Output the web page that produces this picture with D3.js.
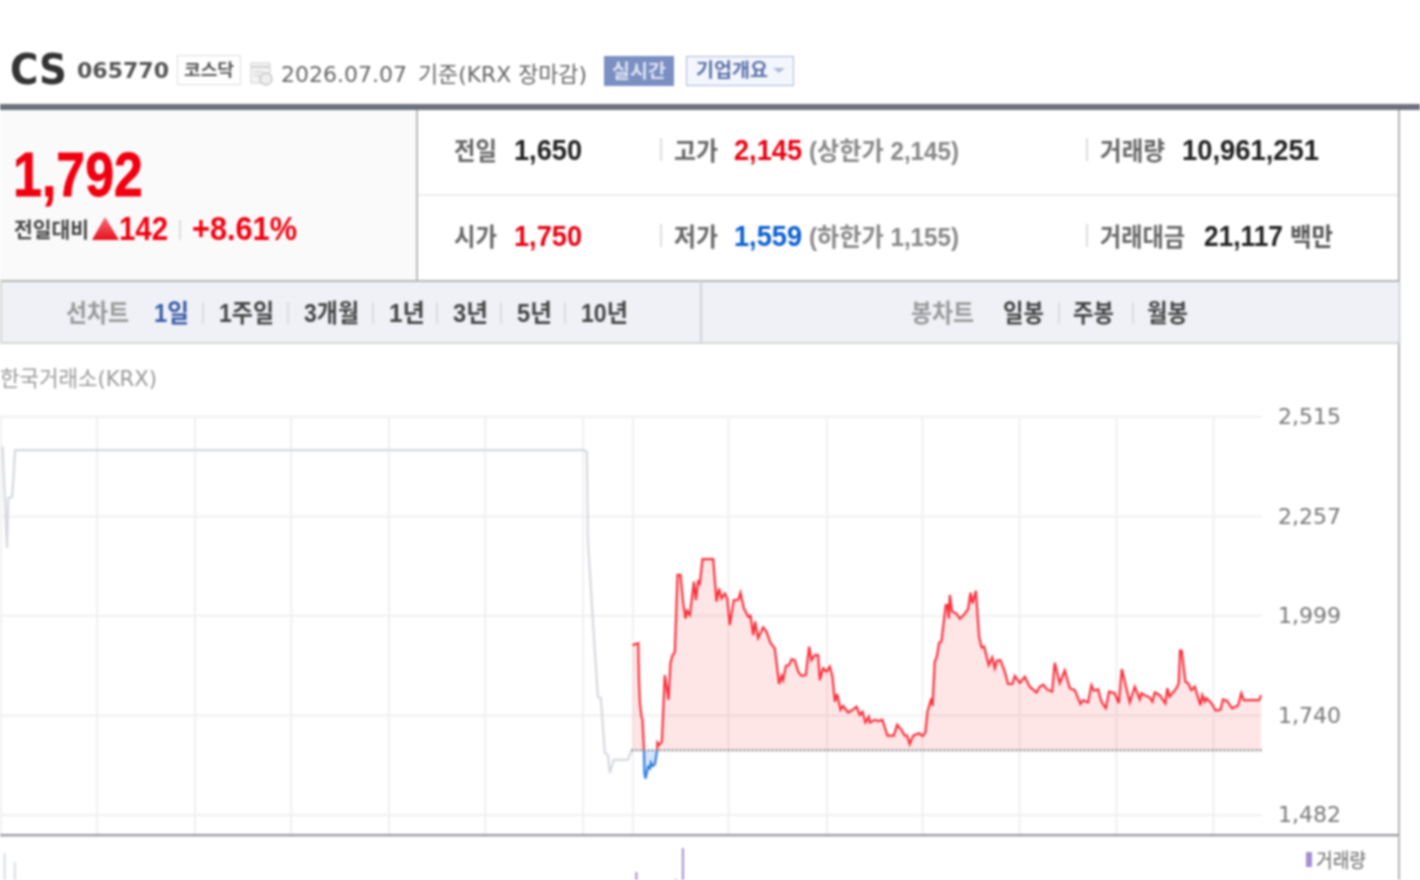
<!DOCTYPE html>
<html>
<head>
<meta charset="utf-8">
<script src="https://cdn.jsdelivr.net/npm/d3@7"></script>
<style>
html, body { margin: 0; padding: 0; background: #fff; overflow: hidden; }
svg { display: block; filter: blur(0.8px); }
text { font-family: "Liberation Sans", "Noto Sans CJK KR", sans-serif; }
.dv { font-family: "DejaVu Sans", "Noto Sans CJK KR", sans-serif; }
</style>
</head>
<body>
<svg id="chart" width="1420" height="880"></svg>
<script>
// values. minutes counted from the previous day's 09:00
const prevMinutes = [0, 1, 3.7, 4.5, 6.8, 7.6, 8.7, 361, 362.4, 363, 366, 369.2, 371, 373.5, 375.4, 376.6, 379, 387.8, 390];
const prevPrices = [2435, 2435, 2175, 2305, 2307, 2351, 2429, 2429, 2424, 2196, 1993, 1788, 1786, 1643, 1638, 1591, 1625, 1625, 1651];

const todayMinutes = [390.6, 394.2, 394.6, 395.2, 396.2, 396.8, 397.7, 398, 398.7, 400.3, 401.4, 402, 403, 404.5, 405.9, 406, 407.1, 408.8, 410.6, 411.7, 412.9, 414.1, 415.4, 416.8, 418.5, 420.3, 422, 423.4, 424.4, 426.1, 428.6, 429.8, 431.2, 432.3, 433.9, 440.5, 442.6, 444.2, 445.7, 447.7, 449.2, 450.8, 453.3, 456, 457.4, 459.5, 462.2, 463.6, 465.3, 466.5, 468.3, 471.4, 473.5, 476, 478.6, 481.3, 482.8, 483.8, 485.5, 487.5, 489, 491, 493.1, 495.1, 497.8, 499.9, 501.3, 503.4, 505.4, 506.5, 508.5, 510.6, 512.7,
  514.3, 515.8, 517.2, 519.3, 520.9, 524, 526.7, 529.2, 531.2, 532.9, 534.7, 536.8, 537.4, 540.5, 542.6, 545.2, 548.3, 552.3, 554.3, 557, 559, 560.5, 562.1, 564.2, 567.9, 570, 571.8, 573.1, 575.5, 576.2, 577.6, 579, 580.3, 581.7, 584.4, 585.4, 586.3, 586.9, 588.3, 591, 593.1, 595.1, 598.2, 599.7, 600.9, 603, 605, 606.5, 608.1, 611, 613.1, 614.7, 616.1, 618.2, 620.9, 622.9, 625.6, 627.1, 630.2, 633.3, 636.3, 640.5, 642.5, 644.6, 647.1, 650.2, 651.8, 654.9, 658, 661.1, 664.2, 667.7,
  669.3, 672.4, 674.5, 675.9, 678.6, 680.7, 683.4, 685.4, 688.9, 691.4, 693.3, 696.1, 698.2, 701.3, 704.4, 705.4, 707.5, 710.6, 712.2, 713.7, 716.7, 720.2, 721.5, 722.9, 727.1, 728.5, 729.3, 730.3, 732.6, 734.3, 736.3, 738.4, 741.9, 743.1, 744.6, 745.6, 748.7, 751.4, 754.3, 755.9, 758.4, 761.5, 765.2, 767.2, 768.7, 778.2, 779.4];
const todayPrices = [1923, 1928, 1832, 1772, 1737, 1729, 1651, 1590, 1577, 1607, 1603, 1618, 1609, 1614, 1651, 1670, 1664, 1672, 1845, 1815, 1781, 1876, 1897, 1904, 2105, 2105, 2031, 1992, 2012, 2001, 2088, 2040, 2088, 2083, 2146, 2146, 2036, 2070, 2044, 2057, 2044, 1975, 2040, 2040, 2059, 2018, 1997, 1999, 1949, 1984, 1941, 1969, 1958, 1928, 1915, 1822, 1843, 1832, 1869, 1871, 1886, 1884, 1854, 1843, 1845, 1919, 1884, 1897, 1897, 1832, 1863, 1854, 1867,
  1841, 1776, 1796, 1755, 1765, 1748, 1755, 1763, 1742, 1750, 1722, 1737, 1722, 1729, 1726, 1729, 1688, 1688, 1716, 1703, 1688, 1688, 1666, 1688, 1694, 1687, 1696, 1750, 1785, 1765, 1880, 1895, 1929, 1932, 2027, 2027, 1992, 2053, 2010, 2005, 1991, 1999, 2016, 2059, 2031, 2064, 1945, 1917, 1919, 1871, 1891, 1863, 1883, 1884, 1854, 1822, 1822, 1843, 1825, 1841, 1815, 1800, 1815, 1820, 1808, 1802, 1877, 1824, 1857, 1811, 1806, 1770,
  1780, 1774, 1819, 1805, 1808, 1776, 1759, 1802, 1798, 1772, 1861, 1811, 1774, 1815, 1782, 1798, 1793, 1787, 1776, 1800, 1793, 1772, 1811, 1789, 1811, 1824, 1909, 1909, 1828, 1824, 1806, 1815, 1767, 1793, 1776, 1785, 1772, 1753, 1755, 1782, 1778, 1759, 1766, 1798, 1780, 1780, 1793];

const prevClose = 1650;
const priceTicks = [1482, 1740, 1999, 2257, 2515];
const timeTicks = [59.5, 120, 179.5, 240, 299.5, 360, 391, 450, 511, 570, 630, 690, 750];

const prevVolMinutes = [2.2, 8.5];
const prevVolumes = [475, 431];
const todayVolMinutes = [393, 417.5, 421.8];
const todayVolumes = [382, 348, 500];

const summaryRows = [
  [{ label: "전일", w: 43, value: "1,650", vw: 68, color: "#222" }, { label: "고가", w: 44, value: "2,145", vw: 68, color: "#e60012", note: "(상한가 2,145)" }, { label: "거래량", w: 65, value: "10,961,251", vw: 137, color: "#222" }],
  [{ label: "시가", w: 43, value: "1,750", vw: 68, color: "#e60012" }, { label: "저가", w: 44, value: "1,559", vw: 68, color: "#0a5fd0", note: "(하한가 1,155)" }, { label: "거래대금", w: 85, value: "21,117", vw: 79, color: "#222", unit: "백만" }]
];
const lineTabs = ["1일", "1주일", "3개월", "1년", "3년", "5년", "10년"];
const lineTabX = [154, 219, 304, 389, 453, 517, 581];
const lineTabW = [35, 55, 55, 36, 35, 35, 47];
const candleTabs = ["일봉", "주봉", "월봉"];
const candleTabX = [1003, 1073, 1147];

const svg = d3.select("#chart");

const x = d3.scaleLinear().domain([0, 780]).range([1, 1262]);
const y = d3.scaleLinear().domain([1482, 2515]).range([815, 417]);
const yVol = d3.scaleLinear().domain([0, 500]).range([950, 848]);

function txt(s, px, py, size, color, opts = {}) {
  const t = svg.append("text").attr("x", px).attr("y", py)
    .attr("font-size", size).attr("fill", color).text(s);
  if (opts.weight) t.attr("font-weight", opts.weight);
  if (opts.cls) t.attr("class", opts.cls);
  if (opts.stretch) t.attr("textLength", opts.stretch).attr("lengthAdjust", "spacingAndGlyphs");
  return t;
}
function rect(px, py, w, h, fill, stroke) {
  return svg.append("rect").attr("x", px).attr("y", py).attr("width", w).attr("height", h)
    .attr("fill", fill).attr("stroke", stroke || "none");
}

const defs = svg.append("defs");
const tri = defs.append("linearGradient").attr("id", "tri").attr("x1", 0).attr("x2", 0).attr("y1", 0).attr("y2", 1);
tri.append("stop").attr("offset", 0).attr("stop-color", "#f4707a");
tri.append("stop").attr("offset", 1).attr("stop-color", "#e8101c");

// header
txt("CS", 10, 84, 42, "#333", { cls: "dv", weight: "bold", stretch: 57 });
txt("065770", 77, 78, 22, "#555", { cls: "dv", weight: "bold", stretch: 92 });
rect(177.5, 55.5, 63, 29, "#fff", "#ddd");
txt("코스닥", 184, 76, 17.5, "#555", { weight: "bold", stretch: 50 });
rect(251, 63, 19, 20, "#f4f4f4", "#d0d0d0");
rect(251, 66, 19, 2, "#cfcfcf");
rect(254, 71, 9, 1.5, "#d5d5d5");
rect(254, 75, 9, 1.5, "#d5d5d5");
svg.append("circle").attr("cx", 266).attr("cy", 79).attr("r", 6).attr("fill", "#eee").attr("stroke", "#aaa");
txt("2026.07.07", 281, 82, 22, "#666", { cls: "dv" });
txt("기준(KRX 장마감)", 418, 82, 22, "#666", { cls: "dv", stretch: 169 });
rect(604, 56, 70, 30, "#7b8fc2");
txt("실시간", 612, 78, 19, "#dfe5f5", { weight: "bold", stretch: 54 });
rect(686.5, 56.5, 107, 29, "#f4f6fd", "#a9b7d9");
txt("기업개요", 696, 77, 19, "#5a70a8", { weight: "bold", stretch: 72 });
svg.append("path").attr("d", "M773 68h12l-6 5z").attr("fill", "#a9b7d9");
rect(0, 104, 1420, 6, "#6c717d");

// price box
rect(0, 110, 417, 171, "#fafafb");
rect(416, 110, 2, 171, "#bbb");
rect(1398, 110, 2, 770, "#b5b5b5");
txt("1,792", 13, 196, 63, "#f00010", { weight: "bold", stretch: 130 }).attr("stroke", "#f00010").attr("stroke-width", 0.8);
txt("전일대비", 14, 237, 21, "#444", { weight: "bold", stretch: 75 });
svg.append("path").attr("d", "M92 240L105 217L119 240Z").attr("fill", "url(#tri)");
txt("142", 119, 240, 34, "#f00010", { weight: "bold", stretch: 49 });
rect(179, 220, 2, 20, "#ddd");
txt("+8.61%", 192, 240, 34, "#f00010", { weight: "bold", stretch: 105 });

// summary table
rect(418, 194, 980, 2, "#ececec");
const colX = [454, 674, 1100];
const valX = [514, 734, 1182];
const rowY = [160, 246];
summaryRows.forEach((row, ri) => {
  row.forEach((c, ci) => {
    if (ci > 0) rect(colX[ci] - 14, rowY[ri] - 22, 2, 23, "#ddd");
    txt(c.label, colX[ci], rowY[ri], 25, "#666", { weight: "bold", stretch: c.w });
    const vx = (ci === 2 && ri === 1) ? 1204 : valX[ci];
    txt(c.value, vx, rowY[ri], 29, c.color, { weight: "bold", stretch: c.vw });
    if (c.note) txt(c.note, 809, rowY[ri], 25, "#888", { weight: "bold", stretch: 150 });
    if (c.unit) txt(c.unit, 1290, rowY[ri], 25, "#555", { weight: "bold", stretch: 43 });
  });
});

// tab bar
rect(0, 281, 1399, 62, "#eff1f6");
rect(0, 280, 1399, 2, "#b5b5b5");
rect(0, 342, 1399, 2, "#d5d5d5");
rect(0, 281, 2, 62, "#d5d5d5");
rect(700, 281, 2, 62, "#d0d2d8");
txt("선차트", 66, 322, 25, "#999", { weight: "bold", stretch: 63 });
lineTabs.forEach((s, i) => {
  txt(s, lineTabX[i], 322, 25, i === 0 ? "#3a5ba8" : "#444", { weight: "bold", stretch: lineTabW[i] });
  if (i < lineTabs.length - 1) rect(lineTabX[i + 1] - 17, 302, 2, 22, "#dcdde2");
});
txt("봉차트", 911, 322, 25, "#999", { weight: "bold", stretch: 63 });
candleTabs.forEach((s, i) => {
  txt(s, candleTabX[i], 322, 25, "#444", { weight: "bold", stretch: 41 });
  if (i < 2) rect(candleTabX[i + 1] - 15, 302, 2, 22, "#dcdde2");
});

txt("한국거래소(KRX)", 0, 386, 22, "#999", { cls: "dv", stretch: 157 });

// grid
const grid = svg.append("g").attr("stroke", "#f0f0f0").attr("stroke-width", 2);
grid.selectAll("line.v").data(timeTicks).join("line").attr("class", "v")
  .attr("x1", d => x(d)).attr("x2", d => x(d)).attr("y1", 417).attr("y2", 835);
grid.append("line").attr("x1", 1).attr("x2", 1).attr("y1", 417).attr("y2", 835);
grid.selectAll("line.h").data(priceTicks).join("line").attr("class", "h")
  .attr("x1", 0).attr("x2", 1262).attr("y1", d => y(d)).attr("y2", d => y(d));

// y axis labels through d3.axisRight
const yAxis = svg.append("g").attr("transform", "translate(1262,-0.2)")
  .call(d3.axisRight(y).tickValues(priceTicks).tickFormat(d3.format(",")).tickSize(0).tickPadding(16));
yAxis.select(".domain").remove();
yAxis.selectAll("text").attr("class", "dv").attr("font-size", 22).attr("fill", "#777");

rect(0, 834, 1399, 2, "#999");
rect(0, 836, 1399, 1, "#dde");

// price lines
const prev = prevMinutes.map((m, i) => [m, prevPrices[i]]);
const today = todayMinutes.map((m, i) => [m, todayPrices[i]]);
const line = d3.line().x(d => x(d[0])).y(d => y(d[1]));
const area = d3.area().x(d => x(d[0])).y0(y(prevClose)).y1(d => y(d[1]));

defs.append("clipPath").attr("id", "above").append("rect")
  .attr("x", 0).attr("y", 400).attr("width", 1300).attr("height", y(prevClose) - 400);
defs.append("clipPath").attr("id", "below").append("rect")
  .attr("x", 0).attr("y", y(prevClose)).attr("width", 1300).attr("height", 100);

svg.append("path").datum(prev).attr("fill", "none").attr("stroke", "#d6d8de")
  .attr("stroke-width", 2.2).attr("d", line);

const up = svg.append("g").attr("clip-path", "url(#above)");
up.append("path").datum(today).attr("fill", "#f8303c").attr("fill-opacity", 0.12).attr("d", area);
up.append("path").datum(today).attr("fill", "none").attr("stroke", "#f8303c").attr("stroke-width", 2.2).attr("d", line);
const down = svg.append("g").attr("clip-path", "url(#below)");
down.append("path").datum(today).attr("fill", "#d6e6fb").attr("d", area);
down.append("path").datum(today).attr("fill", "none").attr("stroke", "#2f7ce0").attr("stroke-width", 2.2).attr("d", line);

svg.append("line").attr("x1", x(390)).attr("x2", 1262).attr("y1", y(prevClose)).attr("y2", y(prevClose))
  .attr("stroke", "#777").attr("stroke-width", 1.8).attr("stroke-dasharray", "2 2");

// volume bars, cut off by the window
svg.selectAll("rect.pv").data(prevVolMinutes).join("rect").attr("class", "pv")
  .attr("x", d => x(d) - 1).attr("width", 2).attr("fill", "#d8dde3")
  .attr("y", (d, i) => yVol(prevVolumes[i])).attr("height", (d, i) => yVol(0) - yVol(prevVolumes[i]));
svg.selectAll("rect.tv").data(todayVolMinutes).join("rect").attr("class", "tv")
  .attr("x", d => x(d) - 1).attr("width", 2).attr("fill", "#a48fd0")
  .attr("y", (d, i) => yVol(todayVolumes[i])).attr("height", (d, i) => yVol(0) - yVol(todayVolumes[i]));

rect(1306, 852, 6, 15, "#a48fd0");
txt("거래량", 1316, 868, 20, "#666", { stretch: 50 });
</script>
</body>
</html>
